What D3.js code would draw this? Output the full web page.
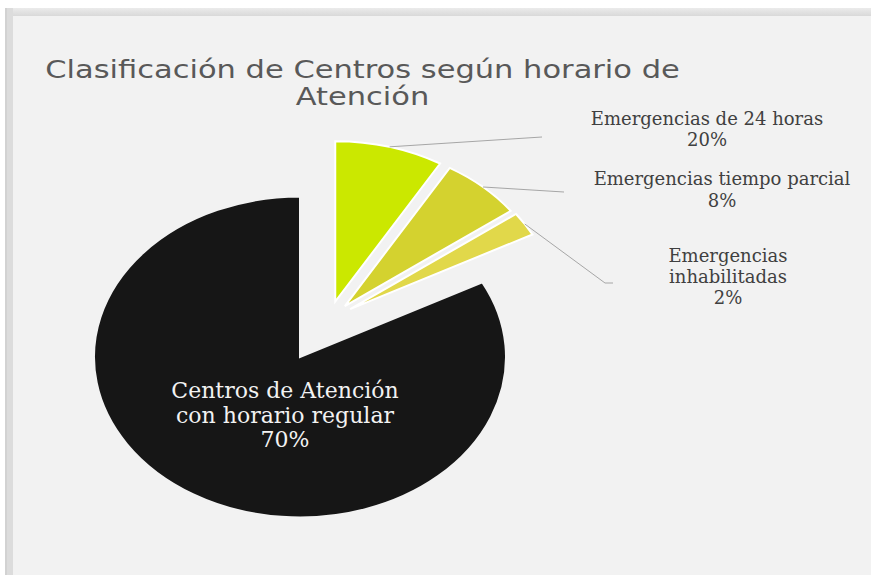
<!DOCTYPE html>
<html>
<head>
<meta charset="utf-8">
<script src="https://cdn.jsdelivr.net/npm/d3@7"></script>
<style>
  body { margin: 0; background: #fff; }
  svg { display: block; }
</style>
</head>
<body>
<div id="chart"></div>
<script>
(function () {

  // data
  var categories = ["Emergencias de 24 horas", "Emergencias tiempo parcial", "Emergencias inhabilitadas", "Centros de Atención con horario regular"];
  var values = [8.5, 6.4, 2.4, 82.7];          // slice sizes as drawn
  var pctLabels = ["20%", "8%", "2%", "70%"];   // percentages as printed
  var labelLines = [
    ["Emergencias de 24 horas"],
    ["Emergencias tiempo parcial"],
    ["Emergencias", "inhabilitadas"],
    ["Centros de Atención", "con horario regular"]
  ];
  var exploded = [true, true, true, false];
  var title = ["Clasificación de Centros según horario de", "Atención"];

  var w = 871;
  var h = 575;

  var colors = ["#cbe800", "#d4d22f", "#e1d84a", "#161616"];

  // pie is an ellipse: draw on a circle and stretch x
  var cx = 300, cy = 357;
  var r = 160.5;
  var sx = 206 / r;
  var explodeDist = 0.385 * r;

  // label placement (center x, first baseline, line step)
  var labelPos = [
    { x: 707, y: 125, step: 21, end: [[542, 137]] },
    { x: 722, y: 185, step: 22, end: [[564, 192]] },
    { x: 728, y: 262, step: 21, end: [[605, 283], [613, 283]] },
    { x: 285, y: 398, step: 24.5 }
  ];

  var svg = d3.select("#chart")
    .append("svg")
    .attr("width", w)
    .attr("height", h)

  // frame
  var grad = svg.append("defs").append("linearGradient")
    .attr("id", "topband").attr("x1", 0).attr("x2", 0).attr("y1", 0).attr("y2", 1)
  grad.append("stop").attr("offset", "0%").attr("stop-color", "#ebebeb")
  grad.append("stop").attr("offset", "100%").attr("stop-color", "#d9d9d9")

  svg.append("rect").attr("x", 5).attr("y", 8).attr("width", w - 5).attr("height", 8)
    .style("fill", "url(#topband)")
  svg.append("rect").attr("x", 5).attr("y", 8).attr("width", 8).attr("height", h - 8)
    .style("fill", "#dcdcdc")
  svg.append("rect").attr("x", 5).attr("y", 8).attr("width", 2).attr("height", h - 8)
    .style("fill", "#d2d2d2")
  svg.append("rect").attr("x", 13).attr("y", 16).attr("width", w - 13).attr("height", h - 16)
    .style("fill", "#f2f2f2")

  // title
  var tg = svg.append("g")
  title.forEach(function (t, i) {
    tg.append("text")
      .attr("transform", "translate(362.5," + (78 + i * 27) + ") scale(1.22,1)")
      .attr("text-anchor", "middle")
      .style("font-family", "'DejaVu Sans', sans-serif")
      .style("font-size", "25px")
      .style("fill", "#595959")
      .text(t)
  })

  var pie = d3.pie().sort(null).value(function (d) { return d; })
  var arcs = pie(values)

  var arc = d3.arc().innerRadius(0).outerRadius(r)

  var group = arcs.filter(function (d, i) { return exploded[i]; })
  var groupMid = (d3.min(group, function (d) { return d.startAngle; }) + d3.max(group, function (d) { return d.endAngle; })) / 2

  function offset(d, i) {
    if (!exploded[i]) return [0, 0];
    var mid = (d.startAngle + d.endAngle) / 2
    var a = groupMid + (mid - groupMid) * 0.3
    return [explodeDist * Math.sin(a), -explodeDist * Math.cos(a)]
  }

  var pieG = svg.append("g")
    .attr("transform", "translate(" + cx + "," + cy + ") scale(" + sx + ",1)")

  pieG.selectAll(".slice")
    .data(arcs)
    .enter()
    .append("path")
    .attr("class", "slice")
    .attr("transform", function (d, i) {
      var o = offset(d, i)
      return "translate(" + o[0] + "," + o[1] + ")"
    })
    .attr("d", arc)
    .style("fill", function (d, i) { return colors[i]; })
    .style("stroke", function (d, i) { return exploded[i] ? "#ffffff" : "#f2f2f2"; })
    .style("stroke-width", 2)
    .attr("vector-effect", "non-scaling-stroke")

  // leader lines from outer arc midpoint to label
  arcs.forEach(function (d, i) {
    if (!labelPos[i].end) return;
    var o = offset(d, i)
    var mid = (d.startAngle + d.endAngle) / 2
    var px = cx + (o[0] + r * Math.sin(mid)) * sx
    var py = cy + o[1] - r * Math.cos(mid)
    var pts = [[px, py]].concat(labelPos[i].end)
    svg.append("path")
      .attr("d", d3.line()(pts))
      .style("fill", "none")
      .style("stroke", "#a6a6a6")
      .style("stroke-width", 1)
  })

  // data labels
  arcs.forEach(function (d, i) {
    var p = labelPos[i]
    var lines = labelLines[i].concat([pctLabels[i]])
    var inside = i === 3
    var txt = svg.append("text")
      .attr("text-anchor", "middle")
      .style("font-family", "'DejaVu Serif', serif")
      .style("font-size", inside ? "22px" : "18px")
      .style("fill", inside ? "#f2f2f2" : "#404040")
    lines.forEach(function (l, j) {
      txt.append("tspan")
        .attr("x", p.x)
        .attr("y", p.y + j * p.step)
        .text(l)
    })
  })

})()
</script>
</body>
</html>
